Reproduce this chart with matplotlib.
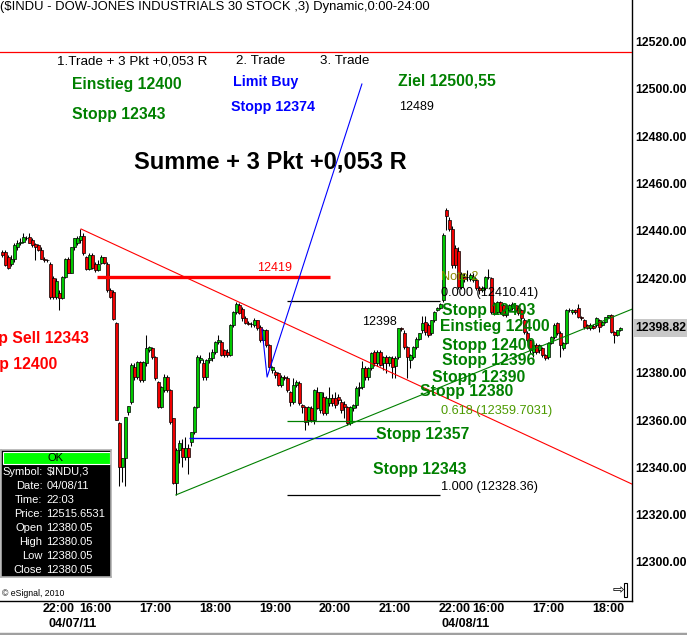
import numpy as np
import matplotlib
matplotlib.use("Agg")
import matplotlib.pyplot as plt
from matplotlib.patches import Rectangle
from matplotlib.lines import Line2D
import matplotlib.transforms as mtransforms

plt.rcParams['font.family'] = ['Liberation Sans', 'DejaVu Sans']

# ---------------- data (3-minute candles, $INDU) ----------------
opens = [
    12431, 12431, 12429, 12426, 12428, 12433, 12435, 12435.5, 12437, 12437.5,
    12436, 12434.5, 12434, 12432, 12428.3, 12427.5, 12426.2, 12419.9, 12412, 12413.6,
    12411.5, 12420.5, 12428, 12422.4, 12433, 12435, 12436, 12438, 12428.8, 12424,
    12429.6, 12426.2, 12423.3, 12426.5, 12428.8, 12426.2, 12414.8, 12414, 12401, 12358.7,
    12340.1, 12343.9, 12363.3, 12367.5, 12382.3, 12378.1, 12384.4, 12376.8, 12384, 12389.8,
    12390.3, 12386.5, 12376, 12365.4, 12372.6, 12378.1, 12372.6, 12360.8, 12333.3, 12347.3,
    12348.1, 12344.3, 12348.1, 12350.6, 12354.9, 12365.4, 12385.3, 12384, 12378.1, 12385.3,
    12386.1, 12388.7, 12392.9, 12392.9, 12389.5, 12389, 12387.4, 12400, 12405.5, 12408.5,
    12407, 12403, 12400.9, 12400.6, 12400.1, 12402.2, 12399.2, 12393.7, 12397.9, 12391.6,
    12381.1, 12380.2, 12379.8, 12374.7, 12378.1, 12377.7, 12371.8, 12367.5, 12374.7, 12375.5,
    12366.3, 12365.4, 12359.9, 12365, 12359.9, 12371.8, 12364.2, 12369.7, 12363, 12367.1,
    12369.2, 12369.2, 12369.7, 12367.5, 12367, 12365.4, 12358.7, 12365, 12366.3, 12373.5,
    12373.9, 12381.9, 12378.1, 12381.9, 12388.7, 12384, 12388.7, 12384, 12386.5, 12384,
    12386.1, 12383, 12386.5, 12398.8, 12396.7, 12390.8, 12385.3, 12386.5, 12390.8, 12394.5,
    12397.9, 12401.3, 12400, 12396.7, 12402.2, 12406.4, 12407.6,
    12410.6, 12449.0, 12444.4, 12441.0, 12432.6, 12431.7, 12416.1, 12420.3, 12420.3, 12419.5,
    12419.1, 12419.1, 12415.7, 12414.8, 12415.7, 12420.3, 12419.9, 12409.3, 12405.5, 12409.8,
    12408.5, 12404.3, 12406.4, 12407.2, 12408.5, 12407.6, 12406.4, 12402.2, 12396.7, 12393.7,
    12388.6, 12391.6, 12389.5, 12390.3, 12387.4, 12386.5, 12392.4, 12395.0, 12400.9, 12396.7,
    12390.3, 12392.4, 12406.4, 12405.5, 12406.4, 12407.2, 12403.4, 12402.2, 12400.1, 12398.8,
    12399.8, 12400.1, 12402.2, 12400.1, 12401.3, 12403.4, 12404.3, 12397.1, 12395.8, 12397.9,
]
highs = [
    12432, 12432, 12430, 12430, 12435, 12436, 12437, 12439, 12438, 12439,
    12437, 12435, 12434.5, 12433, 12429, 12428, 12427, 12421, 12420, 12415,
    12421, 12428.5, 12429, 12433, 12437, 12438, 12440.6, 12439, 12429.5, 12430.5,
    12430.5, 12427, 12427.5, 12430, 12429, 12427, 12416, 12415, 12401.5, 12359,
    12344, 12361.5, 12366, 12384, 12384, 12385, 12385, 12385, 12396, 12391.5,
    12391, 12387, 12376.5, 12374.5, 12379.5, 12379, 12373, 12361, 12348, 12351.5,
    12352, 12353, 12350, 12355, 12366, 12387.5, 12387.5, 12386, 12386, 12389,
    12390, 12393.5, 12395.8, 12394, 12390, 12390, 12400.6, 12406, 12409.8, 12409.5,
    12408, 12404, 12402, 12401.5, 12403, 12402.5, 12400, 12398.5, 12398.5, 12392,
    12383, 12381, 12380.5, 12379, 12379, 12378.5, 12372.5, 12377.7, 12377, 12376.5,
    12367, 12366, 12366, 12366, 12373, 12374, 12372, 12372, 12370, 12374,
    12371, 12372, 12371, 12369, 12368, 12366, 12366, 12367, 12374.5, 12376,
    12385, 12383, 12382.5, 12389, 12389.5, 12389.5, 12389.5, 12387, 12387.5, 12387,
    12387, 12387, 12399, 12399.5, 12398, 12391.5, 12388, 12391.5, 12395, 12397,
    12404, 12404, 12401, 12402.5, 12406, 12408, 12409.5,
    12439, 12449.6, 12446, 12442, 12434, 12433, 12422.5, 12422, 12423.3, 12422,
    12422, 12420, 12416.5, 12416.5, 12421, 12424.1, 12420.7, 12410, 12410.5, 12410.2,
    12409.5, 12407.5, 12409, 12410, 12409, 12408.5, 12407, 12403, 12397.5, 12394.5,
    12392.5, 12392.5, 12392, 12391, 12388, 12393, 12395.5, 12401, 12401.5, 12397.5,
    12393, 12407, 12407.5, 12407, 12407, 12409.3, 12404, 12402.8, 12400.6, 12401,
    12400.5, 12403.5, 12402.6, 12401.8, 12403.8, 12404.6, 12404.8, 12397.5, 12398.2, 12399.5,
]
lows = [
    12429, 12425, 12424, 12425, 12427, 12432, 12434, 12435, 12436, 12435,
    12433, 12427.5, 12431.5, 12428, 12427, 12427, 12411, 12411, 12411, 12406.4,
    12411, 12420, 12422, 12422, 12432, 12434, 12435, 12430, 12423.5, 12423.5,
    12424, 12422.5, 12423, 12426, 12426, 12414, 12411.5, 12402.5, 12359.9, 12332,
    12334, 12332, 12362, 12367, 12377, 12377.5, 12376, 12376, 12383, 12389,
    12386, 12377, 12365, 12365, 12372, 12372, 12358.5, 12333, 12328.36, 12342,
    12340, 12343, 12337, 12349, 12354, 12365, 12384, 12377, 12377, 12384,
    12385, 12388, 12392, 12387, 12386.5, 12386.5, 12387, 12399.5, 12405, 12405,
    12402, 12400.5, 12400, 12399.5, 12399.5, 12398, 12393, 12393, 12391, 12382,
    12380, 12378, 12374.5, 12374, 12377, 12372, 12366, 12367, 12374, 12366.5,
    12363, 12355.7, 12358, 12359, 12358.5, 12364.5, 12363, 12362, 12362, 12366,
    12366, 12365, 12367, 12363, 12361, 12358, 12358, 12364, 12365, 12370,
    12373, 12377, 12377, 12381, 12383, 12383, 12383, 12381, 12380, 12383,
    12378, 12378, 12386, 12397.5, 12390, 12378, 12382, 12386, 12390, 12394,
    12397, 12396, 12395, 12396, 12401.5, 12406, 12407,
    12410, 12440.2, 12440, 12424.5, 12424.5, 12415.5, 12415.5, 12418.5, 12419, 12419,
    12418.5, 12415, 12413.5, 12414, 12415, 12419.5, 12405, 12404.3, 12405, 12405,
    12404, 12403.5, 12406, 12406.5, 12406, 12404.5, 12402.5, 12396.5, 12393, 12388.5,
    12386.5, 12388, 12388.5, 12386.5, 12385.5, 12386, 12392, 12394.5, 12396, 12386.5,
    12389.5, 12392, 12405.5, 12405, 12405, 12403, 12402.5, 12398.5, 12398.5, 12398.2,
    12398.5, 12399.5, 12397.1, 12399.6, 12401, 12403, 12397, 12392.4, 12395.5, 12397.5,
]
closes = [
    12430, 12425.5, 12424.5, 12428, 12434, 12435, 12435.5, 12437.5, 12437, 12435,
    12434, 12433, 12432, 12428.3, 12427.5, 12427.5, 12411.9, 12411.9, 12419, 12411.5,
    12420.5, 12428, 12422.4, 12433, 12436.8, 12436.8, 12438, 12430.5, 12424, 12429.6,
    12424.5, 12423.3, 12426.2, 12428.8, 12426.6, 12414.8, 12411.9, 12402.6, 12359.9, 12340.1,
    12343.9, 12361.2, 12366, 12383.2, 12378.1, 12384.4, 12376.8, 12384.4, 12390.3, 12390.8,
    12386.5, 12377.7, 12365.4, 12373.9, 12378.1, 12372.6, 12359.1, 12333.3, 12347.3, 12350.2,
    12344.3, 12348.1, 12344.3, 12354.9, 12365.4, 12386.5, 12386.1, 12378.1, 12385.3, 12386.1,
    12388.7, 12392.9, 12393.7, 12387.4, 12387.4, 12387.6, 12400, 12405.5, 12409.3, 12405.1,
    12403, 12400.9, 12400.6, 12400.5, 12402.2, 12398.8, 12393.7, 12397.9, 12391.6, 12382.3,
    12382.3, 12379, 12374.7, 12378.1, 12377.7, 12372.6, 12367.5, 12374.7, 12376, 12367.1,
    12365.4, 12359.1, 12365.4, 12359.9, 12372.6, 12365, 12371.8, 12363, 12369.2, 12369.2,
    12367.1, 12366.3, 12368.4, 12364.2, 12365.4, 12358.7, 12365.4, 12366.3, 12373.5, 12373.9,
    12381.9, 12378.1, 12381.9, 12388.2, 12384, 12388.7, 12383.2, 12386.5, 12384, 12386.5,
    12382.3, 12386.1, 12398.8, 12398.4, 12390.8, 12386.5, 12387.4, 12390.8, 12394.5, 12396.7,
    12400.9, 12397.1, 12395.8, 12402.2, 12405.5, 12407.6, 12408.9,
    12438.1, 12446.5, 12441.0, 12425.4, 12425.4, 12416.1, 12421.6, 12419.5, 12420.3, 12421.2,
    12420.7, 12415.7, 12414.8, 12415.7, 12420.3, 12420.7, 12405.5, 12405.1, 12409.8, 12405.5,
    12404.3, 12407.2, 12408.5, 12409.3, 12406.4, 12405.1, 12403.0, 12397.1, 12393.7, 12389.5,
    12391.6, 12388.6, 12391.6, 12387.4, 12386.1, 12392.4, 12395.0, 12400.1, 12396.7, 12391.6,
    12392.4, 12406.4, 12406.6, 12406.4, 12405.5, 12403.4, 12403.0, 12399.2, 12398.8, 12400.1,
    12398.8, 12403.0, 12399.2, 12401.3, 12403.4, 12404.3, 12397.1, 12395.8, 12397.9, 12398.82,
]

# x-axis time labels (bar index where each labelled period starts)
time_tick_bars = [14, 26, 46, 66, 86, 106, 126, 146, 157, 177, 197]
time_tick_labels = ["22:00", "16:00", "17:00", "18:00", "19:00", "20:00", "21:00",
                    "22:00", "16:00", "17:00", "18:00"]
date_bars = [16, 147]
date_labels = ["04/07/11", "04/08/11"]
price_ticks = [12300, 12320, 12340, 12360, 12380, 12420, 12440, 12460, 12480, 12500, 12520]
last_price = 12398.82

# drawn tools
red_level_price = 12515.65
red_box_level = 12420.4
fib_levels = [12410.41, 12359.7031, 12328.36]
blue_stop_level = 12352.4
red_trend = [(26.2, 12440.8), (209.83, 12332.95)]
green_trend = [(57.8, 12328.36), (209.83, 12406.9)]
blue_path_x = [86.5, 88.2, 119.8]
blue_path_y = [12398.5, 12378.2, 12502.1]

GREEN_C = '#00c800'
RED_C = '#f00000'
TXT_GREEN = '#008000'

# ---------------- figure ----------------
W, H = 687, 635
fig = plt.figure(figsize=(W / 100, H / 100), dpi=100)
fig.patch.set_facecolor('white')
ax = fig.add_axes([0, (H - 601) / H, 632 / W, 601 / H])
ax.set_facecolor('white')

o = np.array(opens); h = np.array(highs); l = np.array(lows); c = np.array(closes)
x = np.arange(len(o))
up = c >= o
bot = np.minimum(o, c)
bh = np.maximum(np.abs(c - o), 0.2)

ax.vlines(x, l, h, color='black', lw=0.75, zorder=2)
ax.bar(x[up], bh[up], bottom=bot[up], width=0.8, color=GREEN_C, edgecolor='black', lw=0.5, zorder=2.5)
ax.bar(x[~up], bh[~up], bottom=bot[~up], width=0.8, color=RED_C, edgecolor='black', lw=0.5, zorder=2.5)

ax.set_xlim(-0.8333, 632 / 3 - 0.8333)
ax.set_ylim(12537.63 - 0.42283 * 601, 12537.63)

# horizontal level lines
ax.axhline(red_level_price, color='red', lw=0.9, zorder=3)
ax.hlines(red_box_level, 31.5, 109.2, color='red', lw=2.4, zorder=3)
ax.hlines(fib_levels[0], 94.8, 145.8, color='black', lw=0.9, zorder=3)
ax.hlines(fib_levels[1], 94.8, 145.8, color='#008000', lw=0.9, zorder=3)
ax.hlines(fib_levels[2], 94.8, 145.8, color='black', lw=0.9, zorder=3)
ax.hlines(blue_stop_level, 62.2, 124.8, color='#0000ff', lw=1.0, zorder=3)

# trend lines
ax.plot([p[0] for p in red_trend], [p[1] for p in red_trend], color='red', lw=0.8, zorder=3)
ax.plot([p[0] for p in green_trend], [p[1] for p in green_trend], color='#008000', lw=0.8, zorder=3)
ax.plot(blue_path_x, blue_path_y, color='#0000ff', lw=0.8, zorder=3)

# ---------------- text annotations ----------------
def t(xi, yp, s, **kw):
    kw.setdefault('va', 'center')
    kw.setdefault('ha', 'left')
    ax.text(xi, yp, s, zorder=5, clip_on=False, **kw)

t(18.2, 12511.8, "1.Trade + 3 Pkt +0,053 R", fontsize=9.6, color='black')
t(77.8, 12511.8, "2. Trade", fontsize=9.6, color='black')
t(105.8, 12511.8, "3. Trade", fontsize=9.6, color='black')
t(23.2, 12501.7, "Einstieg 12400", fontsize=11.3, fontweight='bold', color=TXT_GREEN)
t(23.2, 12489.4, "Stopp 12343", fontsize=11.3, fontweight='bold', color=TXT_GREEN)
t(76.8, 12503.0, "Limit Buy", fontsize=10.3, fontweight='bold', color='#0000ff')
t(76.2, 12492.4, "Stopp 12374", fontsize=10.3, fontweight='bold', color='#0000ff')
t(131.8, 12503.4, "Ziel 12500,55", fontsize=11.3, fontweight='bold', color=TXT_GREEN)
t(132.2, 12492.4, "12489", fontsize=9, color='black')
t(43.8, 12469.1, "Summe + 3 Pkt +0,053 R", fontsize=17, fontweight='bold', color='black')
t(84.8, 12424.3, "12419", fontsize=9, color='red')
t(119.8, 12401.5, "12398", fontsize=9, color='black')

t(146.2, 12420.5, "Note 2", fontsize=9.2, color='#8a8a00')
t(146.2, 12413.7, "0.000 (12410.41)", fontsize=9.2, color='black')
t(146.2, 12363.8, "0.618 (12359.7031)", fontsize=9.2, color='#4c9a00')
t(146.2, 12331.7, "1.000 (12328.36)", fontsize=9.2, color='black')

for xi, yp, s in [(146.5, 12406.5, "Stopp 12403"), (145.8, 12399.4, "Einstieg 12400"),
                  (146.5, 12391.7, "Stopp 12400"), (146.5, 12385.0, "Stopp 12396"),
                  (143.2, 12378.2, "Stopp 12390"), (139.2, 12371.9, "Stopp 12380"),
                  (124.5, 12353.7, "Stopp 12357"), (123.5, 12339.3, "Stopp 12343")]:
    t(xi, yp, s, fontsize=11.3, fontweight='bold', color=TXT_GREEN)

# these two labels run off the left edge in the original chart
t(28.8, 12394.3, "Stopp Sell 12343", ha='right', fontsize=11.3, fontweight='bold', color='red')
t(18.2, 12383.3, "Stopp 12400", ha='right', fontsize=11.3, fontweight='bold', color='red')

# ---------------- axes styling ----------------
for s in ['left', 'top']:
    ax.spines[s].set_visible(False)
for s in ['right', 'bottom']:
    ax.spines[s].set_color('black')
    ax.spines[s].set_linewidth(1.0)

ax.yaxis.tick_right()
ax.set_yticks(price_ticks)
ax.set_yticklabels([f"{v:.2f}" for v in price_ticks], fontsize=8.8, fontweight='bold')
ax.tick_params(axis='y', length=0, pad=2.5)

ax.set_xticks([b - 0.5 for b in time_tick_bars])
ax.set_xticklabels(time_tick_labels, fontsize=9, fontweight='bold', ha='left')
ax.tick_params(axis='x', length=0, pad=1.5)
xtr = ax.get_xaxis_transform()
for b, lab in zip(date_bars, date_labels):
    ax.text(b - 0.5, -(624 - 601) / 601, lab, transform=xtr, ha='left', va='center',
            fontsize=9, fontweight='bold', clip_on=False)

# title
fig.text(0, 1 - 7 / H, "($INDU - DOW-JONES INDUSTRIALS 30 STOCK ,3) Dynamic,0:00-24:00",
         ha='left', va='center', fontsize=9.4, color='black')

# current price box
btr = mtransforms.blended_transform_factory(ax.transAxes, ax.transData)
ax.add_patch(Rectangle((1.0015, last_price - 3.8), (W - 633) / 632, 7.6, transform=btr,
                       facecolor='#c8c8c8', edgecolor='none', clip_on=False, zorder=4))
ax.text(1.005, last_price, f"{last_price:.2f}", transform=btr, ha='left', va='center',
        fontsize=8.8, fontweight='bold', clip_on=False, zorder=5)

# copyright
fig.text(2 / W, 1 - 594 / H, "\u00a9 eSignal, 2010", ha='left', va='center', fontsize=6.3)

# small scroll icon at lower right
fig.text(613 / W, 1 - 590 / H, "\u21e8", ha='left', va='center', fontsize=10,
         family='DejaVu Sans', color='black')
fig.add_artist(Rectangle((624 / W, 1 - 597 / H), 3 / W, 14 / H, transform=fig.transFigure,
                         facecolor='white', edgecolor='black', lw=0.8))

# window bottom edge
fig.add_artist(Line2D([0, 1], [1 - 633.5 / H, 1 - 633.5 / H], transform=fig.transFigure,
                      color='#a0a0a0', lw=2.5))

# ---------------- cursor tooltip ----------------
tip = fig.add_axes([1 / W, 1 - 577 / H, 110 / W, 127 / H])
tip.set_xlim(0, 110); tip.set_ylim(127, 0)
tip.set_facecolor('black')
tip.set_xticks([]); tip.set_yticks([])
for s in tip.spines.values():
    s.set_color('#b0b0b0'); s.set_linewidth(1.2)
tip.add_patch(Rectangle((1.5, 1.5), 107, 12.5, facecolor='#00ff00', edgecolor='white', lw=0.8))
tip.text(55, 8, "OK", ha='center', va='center', fontsize=8, color='black')
tip_labels = ["Symbol:", "Date:", "Time:", "Price:", "Open", "High", "Low", "Close"]
tip_values = ["$INDU,3", "04/08/11", "22:03", "12515.6531", "12380.05", "12380.05",
              "12380.05", "12380.05"]
for k, (lab, val) in enumerate(zip(tip_labels, tip_values)):
    yy = 22 + 14 * k
    tip.text(41.5, yy, lab, ha='right', va='center', fontsize=8, color='white')
    tip.text(45.5, yy, val, ha='left', va='center', fontsize=8, color='white')

fig.savefig("out.png", dpi=100, facecolor='white')
